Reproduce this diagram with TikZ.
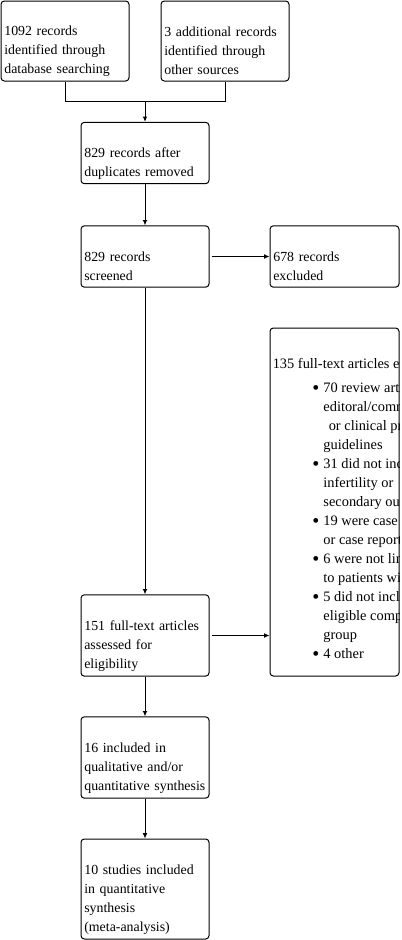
\documentclass[tikz,border=0pt]{standalone}
\usepackage{xcolor}
\definecolor{prisma-ink}{HTML}{000000}
\definecolor{prisma-paper}{HTML}{FFFFFF}
\usepackage{fontspec}
\setmainfont{Liberation Serif}
\usepackage{tikz}
\usetikzlibrary{arrows.meta}

\newcommand\lift{\rule{0pt}{22.5pt}}
\newcommand\itemdot{\llap{\raisebox{-1.3pt}{\fontsize{15}{14}\selectfont\textbullet}\hspace{3pt}}}

\tikzset{
  box/.style={draw=prisma-ink, line width=0.75pt, rounded corners=2.5pt,
    minimum width=96pt, text width=91pt, inner xsep=2.5pt, inner ysep=0pt,
    align=left, font=\fontsize{10.4}{14.25}\selectfont},
  link/.style={draw=prisma-ink, line width=0.75pt},
  arrow/.style={link, -{Latex[length=4pt,width=3.6pt]}}
}

\begin{document}
\begin{tikzpicture}[x=0.75pt, y=-0.75pt]

    % Background
    \fill[prisma-paper] (0, 0) rectangle (402, 940);

    % Identification
    \node[box, minimum height=60pt] (db) at (65, 41) {\lift 1092 records\\identified through\\database searching};
    \node[box, minimum height=60pt] (other) at (225, 41) {\lift 3 additional records\\identified through\\other sources};
    \coordinate (join) at (145, 101.5);

    % Screening
    \node[box, minimum height=46pt] (dedup) at (145, 153) {\lift 829 records after\\duplicates removed};
    \node[box, minimum height=46pt] (screen) at (145, 256.5) {\lift 829 records\\screened};
    \node[box, minimum height=46pt, minimum width=96.75pt, text width=91.75pt] (drop) at (334.5, 256.5) {\lift 678 records\\excluded};

    % Eligibility
    \node[box, minimum height=61pt] (full) at (145, 635.5) {\lift 151 full-text articles\\assessed for\\eligibility};
    \node[box, minimum height=261pt, minimum width=96.75pt, text width=91.75pt] (reasons) at (334.5, 502) {};
    \begin{scope}
      \clip (reasons.south west) rectangle (reasons.north east);
      \node[anchor=north west, inner sep=0pt, align=left, font=\fontsize{10.8}{14.25}\selectfont] (why) at (272.5, 358.5)
        {135 full-text articles excluded, with reasons\\[3.4pt]
         \hspace*{38pt}\itemdot 70 review articles,\\
         \hspace*{38pt}editoral/commentaries\\
         \hspace*{42pt}or clinical practice\\
         \hspace*{38pt}guidelines\\
         \hspace*{38pt}\itemdot 31 did not include\\
         \hspace*{38pt}infertility or\\
         \hspace*{38pt}secondary outcomes\\
         \hspace*{38pt}\itemdot 19 were case series\\
         \hspace*{38pt}or case reports\\
         \hspace*{38pt}\itemdot 6 were not limited\\
         \hspace*{38pt}to patients with\\
         \hspace*{38pt}\itemdot 5 did not include\\
         \hspace*{38pt}eligible comparison\\
         \hspace*{38pt}group\\
         \hspace*{38pt}\itemdot 4 other};
    \end{scope}

    % Included
    \node[box, minimum height=61pt] (qual) at (145, 757.5) {\lift 16 included in\\qualitative and/or\\quantitative synthesis};
    \node[box, minimum height=75pt] (meta) at (145, 889) {\lift 10 studies included\\in quantitative\\synthesis\\(meta-analysis)};

    % Connectors
    \draw[link] (db.south) |- (join) -| (other.south);
    \draw[arrow] (join) -- (dedup.north);
    \draw[arrow] (dedup) -- (screen);
    \draw[arrow, shorten <=1.5pt] (screen) -- (drop);
    \draw[arrow] (screen) -- (full);
    \draw[arrow, shorten <=1.5pt] (full.east) -- (full.east -| reasons.west);
    \draw[arrow] (full) -- (qual);
    \draw[arrow] (qual) -- (meta);

\end{tikzpicture}
\end{document}
